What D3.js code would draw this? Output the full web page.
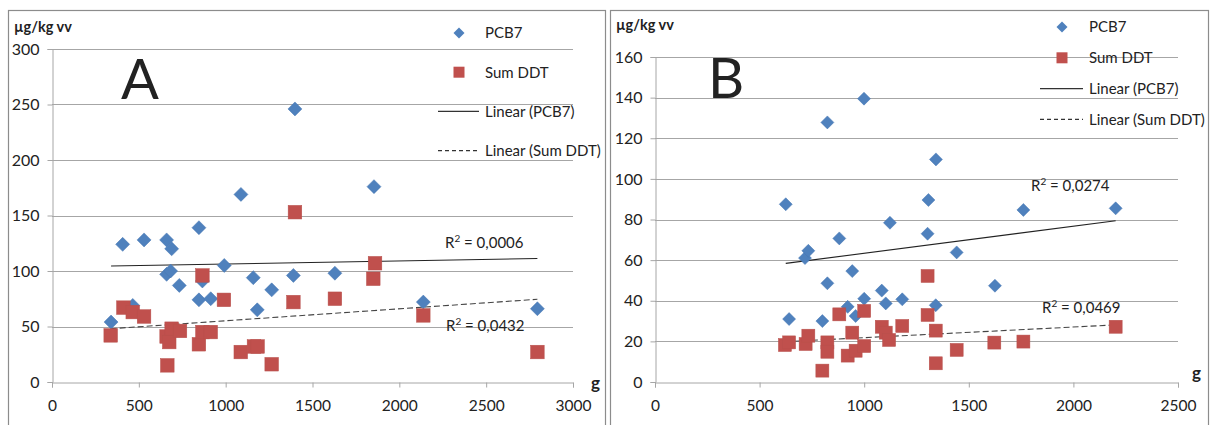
<!DOCTYPE html>
<html>
<head>
<meta charset="utf-8">
<script src="https://cdn.jsdelivr.net/npm/d3@7"></script>
<style>
  html, body { margin: 0; padding: 0; background: #fff; }
  svg { display: block; }
  text { font-family: Lato, "Open Sans", sans-serif; fill: #222; }
</style>
</head>
<body>
<svg id="chart" width="1210" height="425"></svg>
<script>
// Panel A: body weight (g) vs. concentration (µg/kg wet weight)
const pcbA_x = [340, 407, 465, 530, 660, 689, 660, 683, 733, 846, 846, 866, 914, 992, 1088, 1159, 1182, 1265, 1390, 1399, 1629, 1854, 2138, 2795];
const pcbA_y = [54, 124, 69, 128, 128, 120, 97, 100, 87, 139, 74, 91, 75, 105, 169, 94, 65, 83, 96, 246, 98, 176, 72, 66];
const ddtA_x = [338, 411, 465, 530, 660, 689, 675, 737, 664, 866, 846, 866, 914, 990, 1087, 1163, 1184, 1265, 1390, 1399, 1629, 1860, 1850, 2138, 2795];
const ddtA_y = [42, 67, 63, 59, 41, 48, 36, 46, 15, 96, 34, 45, 45, 74, 27, 32, 32, 16, 72, 153, 75, 107, 93, 60, 27];

// Panel B
const pcbB_x = [625, 641, 717, 733, 800, 824, 824, 881, 921, 943, 959, 999, 1000, 1084, 1103, 1123, 1182, 1303, 1307, 1342, 1343, 1442, 1625, 1761, 2202];
const pcbB_y = [87.5, 31, 61, 64.6, 30, 127.8, 48.6, 70.7, 37, 54.6, 32.5, 139.5, 41, 45, 38.7, 78.4, 40.7, 73, 89.6, 37.8, 109.6, 63.8, 47.4, 84.7, 85.5];
const ddtB_x = [621, 641, 720, 733, 800, 824, 824, 881, 921, 943, 959, 1000, 1000, 1084, 1103, 1119, 1182, 1303, 1303, 1342, 1342, 1442, 1622, 1761, 2202];
const ddtB_y = [18.2, 19.5, 18.7, 22.8, 5.6, 19.5, 14.9, 33.3, 13, 24.3, 15.4, 17.7, 35, 27.2, 24.3, 20.7, 27.6, 52.2, 33, 25.3, 9.2, 15.8, 19.4, 19.9, 27.2];

// Axis ticks and labels
const xTicksA = [0, 500, 1000, 1500, 2000, 2500, 3000];
const yTicksA = [0, 50, 100, 150, 200, 250, 300];
const xTicksB = [0, 500, 1000, 1500, 2000, 2500];
const yTicksB = [0, 20, 40, 60, 80, 100, 120, 140, 160];
const r2A = ["0,0006", "0,0432"];
const r2B = ["0,0274", "0,0469"];
const legendLabels = ["PCB7", "Sum DDT", "Linear (PCB7)", "Linear (Sum DDT)"];
const unitLabel = "µg/kg vv";
const xTitle = "g";

const BLUE = "#4F81BD", RED = "#C0504D", GRID = "#A6A6A6";
const svg = d3.select("#chart");

function linfit(xs, ys) {
  const n = xs.length;
  const mx = d3.mean(xs), my = d3.mean(ys);
  let sxy = 0, sxx = 0;
  for (let i = 0; i < n; i++) { sxy += (xs[i] - mx) * (ys[i] - my); sxx += (xs[i] - mx) ** 2; }
  const b = sxy / sxx, a = my - b * mx;
  return x => a + b * x;
}

function panel(cfg) {
  const g = svg.append("g");
  // outer frame
  g.append("rect").attr("x", cfg.frame[0] + 0.5).attr("y", cfg.frame[1] + 0.5)
    .attr("width", cfg.frame[2] - cfg.frame[0]).attr("height", 440)
    .attr("fill", "none").attr("stroke", "#8c8c8c").attr("stroke-width", 1.2);

  const x = d3.scaleLinear().domain(cfg.xDomain).range([cfg.plot.left, cfg.plot.right]);
  const y = d3.scaleLinear().domain(cfg.yDomain).range([cfg.plot.bottom, cfg.plot.top]);

  // horizontal gridlines
  g.append("g").selectAll("line").data(cfg.yTicks.filter(t => t > 0)).join("line")
    .attr("x1", x(cfg.xDomain[0])).attr("x2", x(cfg.xDomain[1]))
    .attr("y1", d => Math.round(y(d)) + 0.5).attr("y2", d => Math.round(y(d)) + 0.5)
    .attr("stroke", GRID).attr("stroke-width", 1);

  // axes
  const xAxis = d3.axisBottom(x).tickValues(cfg.xTicks).tickSize(5).tickPadding(12).tickFormat(d3.format("d"));
  const gx = g.append("g").attr("transform", `translate(0,${Math.round(y(0)) + 0.5})`).call(xAxis);
  const yAxis = d3.axisLeft(y).tickValues(cfg.yTicks).tickSize(5).tickPadding(8).tickFormat(d3.format("d"));
  const gy = g.append("g").attr("transform", `translate(${Math.round(x(0)) + 0.5},0)`).call(yAxis);
  [gx, gy].forEach(a => {
    a.select(".domain").attr("stroke", GRID);
    a.selectAll(".tick line").attr("stroke", GRID);
    a.selectAll(".tick text").attr("font-family", "Lato, sans-serif").attr("font-size", 15.5).attr("fill", "#222");
  });
  gy.selectAll(".tick text").attr("font-size", 16);

  // unit label and axis title
  g.append("text").attr("x", cfg.unitPos[0]).attr("y", cfg.unitPos[1])
    .attr("font-size", 14.5).attr("font-weight", "bold").text(unitLabel);
  g.append("text").attr("x", cfg.gPos[0]).attr("y", cfg.gPos[1])
    .attr("font-size", 17).attr("font-weight", "bold").text(xTitle);

  // big panel letter
  g.append("text").attr("x", cfg.letterPos[0]).attr("y", cfg.letterPos[1])
    .attr("text-anchor", "middle").attr("font-size", 56).attr("font-family", "Lato, sans-serif")
    .attr("fill", "#000").text(cfg.letter);

  // trend lines
  const series = [
    { xs: cfg.pcbX, ys: cfg.pcbY, dash: null },
    { xs: cfg.ddtX, ys: cfg.ddtY, dash: "6,3" }
  ];
  series.forEach(s => {
    const f = linfit(s.xs, s.ys);
    const x0 = d3.min(s.xs), x1 = d3.max(s.xs);
    g.append("line").attr("x1", x(x0)).attr("x2", x(x1)).attr("y1", y(f(x0))).attr("y2", y(f(x1)))
      .attr("stroke", s.dash ? "#444" : "#222").attr("stroke-width", 1.1)
      .attr("stroke-dasharray", s.dash);
  });

  // markers: diamonds for PCB7, squares for Sum DDT
  const ds = cfg.diamond, sq = cfg.square;
  g.append("g").selectAll("path").data(d3.zip(cfg.pcbX, cfg.pcbY)).join("path")
    .attr("d", d => `M${x(d[0])},${y(d[1]) - ds}L${x(d[0]) + ds},${y(d[1])}L${x(d[0])},${y(d[1]) + ds}L${x(d[0]) - ds},${y(d[1])}Z`)
    .attr("fill", BLUE).attr("stroke", "#4677b2").attr("stroke-width", 0.5);
  g.append("g").selectAll("rect").data(d3.zip(cfg.ddtX, cfg.ddtY)).join("rect")
    .attr("x", d => x(d[0]) - sq).attr("y", d => y(d[1]) - sq)
    .attr("width", sq * 2).attr("height", sq * 2)
    .attr("fill", RED).attr("stroke", "#b8504c").attr("stroke-width", 0.5);

  // R² labels
  cfg.r2.forEach((v, i) => {
    const t = g.append("text").attr("x", cfg.r2Pos[i][0]).attr("y", cfg.r2Pos[i][1])
      .attr("font-size", 15);
    t.append("tspan").text("R");
    t.append("tspan").attr("font-size", 10).attr("dy", -6).text("2");
    t.append("tspan").attr("dy", 6).text(" = " + v);
  });

  // legend
  const L = cfg.legend;
  legendLabels.forEach((lab, i) => {
    const cy = L.y0 + i * L.dy;
    if (i === 0) {
      g.append("path").attr("d", `M${L.mx},${cy - 5.5}L${L.mx + 5.5},${cy}L${L.mx},${cy + 5.5}L${L.mx - 5.5},${cy}Z`).attr("fill", BLUE);
    } else if (i === 1) {
      g.append("rect").attr("x", L.mx - 5.5).attr("y", cy - 5.5).attr("width", 11).attr("height", 11).attr("fill", RED);
    } else {
      g.append("line").attr("x1", L.lx0).attr("x2", L.lx1).attr("y1", cy).attr("y2", cy)
        .attr("stroke", "#333").attr("stroke-width", 1.1)
        .attr("stroke-dasharray", i === 3 ? "4,3" : null);
    }
    g.append("text").attr("x", L.tx).attr("y", cy).attr("dy", "0.36em")
      .attr("font-size", 15).text(lab);
  });
}

panel({
  letter: "A", frame: [8, 10, 605],
  xDomain: [0, 3000], yDomain: [0, 300],
  plot: { left: 52, right: 573, top: 49, bottom: 382 },
  xTicks: xTicksA, yTicks: yTicksA,
  pcbX: pcbA_x, pcbY: pcbA_y, ddtX: ddtA_x, ddtY: ddtA_y,
  unitPos: [14, 32], gPos: [591, 389], letterPos: [140, 99],
  r2: r2A, r2Pos: [[445, 248], [446, 331]],
  diamond: 7, square: 6.8,
  legend: { y0: 33, dy: 39.2, mx: 459, lx0: 438, lx1: 479, tx: 485 }
});

panel({
  letter: "B", frame: [610, 10, 1208],
  xDomain: [0, 2500], yDomain: [0, 160],
  plot: { left: 655, right: 1178, top: 57, bottom: 382 },
  xTicks: xTicksB, yTicks: yTicksB,
  pcbX: pcbB_x, pcbY: pcbB_y, ddtX: ddtB_x, ddtY: ddtB_y,
  unitPos: [616, 30], gPos: [1192, 379], letterPos: [726, 98],
  r2: r2B, r2Pos: [[1031, 191], [1042, 313]],
  diamond: 6.5, square: 6.5,
  legend: { y0: 27, dy: 30.8, mx: 1062, lx0: 1040, lx1: 1083, tx: 1089 }
});
</script>
</body>
</html>
